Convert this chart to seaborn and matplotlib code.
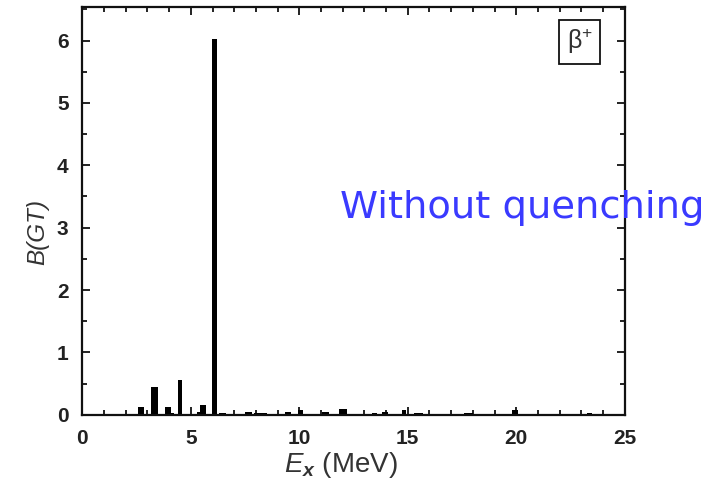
import numpy as np
import pandas as pd
import matplotlib
matplotlib.use("Agg")
import matplotlib.pyplot as plt
from matplotlib.ticker import MultipleLocator
import seaborn as sns

# Data: transitions (energy range in MeV, B(GT))
e_left = [2.55, 3.18, 3.80, 4.09, 4.40, 5.28, 5.44, 5.98, 6.30, 7.50, 7.90,
          9.36, 9.93, 11.06, 11.83, 13.36, 13.80, 14.75, 15.30, 17.60, 19.80, 23.25]
e_right = [2.86, 3.49, 4.09, 4.20, 4.61, 5.44, 5.72, 6.21, 6.60, 7.80, 8.50,
           9.60, 10.15, 11.36, 12.18, 13.60, 14.10, 14.90, 15.70, 18.00, 20.10, 23.50]
bgt = [0.13, 0.45, 0.12, 0.03, 0.56, 0.04, 0.16, 6.02, 0.03, 0.04, 0.03,
       0.04, 0.08, 0.05, 0.09, 0.03, 0.04, 0.08, 0.03, 0.03, 0.08, 0.03]
x_ticks = [0, 5, 10, 15, 20, 25]
y_ticks = [0, 1, 2, 3, 4, 5, 6]

df = pd.DataFrame({"lo": e_left, "hi": e_right, "B": bgt})
df["E"] = (df["lo"] + df["hi"]) / 2
edges = sorted(set(e_left) | set(e_right))

sns.set_style("ticks")
plt.rcParams["font.family"] = ["Liberation Sans", "DejaVu Sans"]
plt.rcParams["mathtext.fontset"] = "custom"
plt.rcParams["mathtext.it"] = "Liberation Sans:italic"
plt.rcParams["mathtext.bfit"] = "Liberation Sans:italic:bold"
plt.rcParams["mathtext.rm"] = "Liberation Sans"

fig = plt.figure(figsize=(7.23, 4.98), dpi=100)
ax = fig.add_axes([0.114, 0.167, 0.750, 0.818])

sns.histplot(data=df, x="E", weights="B", bins=list(edges), stat="count",
             color="black", alpha=1, linewidth=0, element="bars", ax=ax)

ax.set_xlim(0, 25)
ax.set_ylim(0, 6.53)
ax.set_xticks(x_ticks)
ax.set_yticks(y_ticks)
ax.xaxis.set_minor_locator(MultipleLocator(1))
ax.yaxis.set_minor_locator(MultipleLocator(0.5))
ax.tick_params(which="both", direction="in", top=True, right=True, width=1.3,
               colors="#111111")
ax.tick_params(which="major", length=6, labelsize=15)
ax.tick_params(axis="x", which="major", pad=10)
ax.tick_params(axis="y", which="major", pad=10)
ax.tick_params(which="minor", length=3.5)
for lab in ax.get_xticklabels() + ax.get_yticklabels():
    lab.set_fontweight("bold")
    lab.set_color("#222222")
for s in ax.spines.values():
    s.set_linewidth(1.6)
    s.set_color("#111111")

ax.set_xlabel("")
ax.set_ylabel("")
fig.text(341 / 723, 1 - 465 / 498, r"$\mathit{E}_{\mathbfit{x}}$ (MeV)", fontsize=20,
         color="#333333", ha="center", va="center")
fig.text(38 / 723, 1 - 232 / 498, "B(GT)", fontsize=17.5, style="italic",
         color="#333333", ha="center", va="center", rotation=90)

ax.text(0.917, 0.916, r"β$^{+}$", transform=ax.transAxes, fontsize=18,
        color="#333333", ha="center", va="center",
        bbox=dict(boxstyle="square,pad=0.3", fc="white", ec="#111111", lw=1.3))

fig.text(340 / 723, 1 - 218 / 498, "Without quenching", fontsize=27.7,
         color="#3a3aff", ha="left", va="baseline",
         family=["DejaVu Sans"])

fig.savefig("out.png", dpi=100)
